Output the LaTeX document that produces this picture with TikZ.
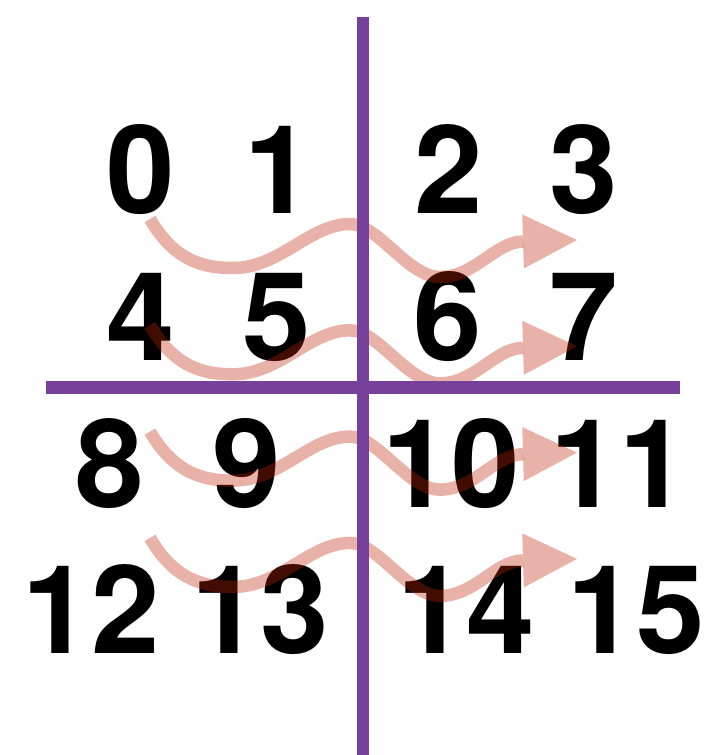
\documentclass[tikz,border=0pt]{standalone}
\usepackage{fontspec}
\setmainfont{TeX Gyre Heros}
\usetikzlibrary{arrows.meta}
\definecolor{divpurple}{RGB}{119,64,154}
\definecolor{arrowred}{RGB}{190,35,5}
\tikzset{
  num/.style={anchor=base, inner sep=0pt, font=\fontsize{123}{123}\selectfont\bfseries},
  divider/.style={draw=divpurple, line width=12.5pt},
  wave/.style={draw=arrowred, opacity=0.35, line width=12.5pt, -{Triangle[length=54pt,width=54pt,line width=0pt]}},
}
\begin{document}
\begin{tikzpicture}[x=1pt,y=-1pt]
\useasboundingbox (0,0) rectangle (712,755);
% numbers
\node[num] (n0) at (141,213) {0};
\node[num] (n1) at (279,213) {1};
\node[num] (n2) at (448.5,213) {2};
\node[num] (n3) at (584,213) {3};
\node[num] (n4) at (141,360) {4};
\node[num] (n5) at (277,360) {5};
\node[num] (n6) at (448,360) {6};
\node[num] (n7) at (584,360) {7};
\node[num] (n8) at (110,507) {8};
\node[num] (n9) at (247,507) {9};
\node[num] (n10) at (451,507) {10};
\node[num] (n11) at (619,507) {11};
\node[num] (n12) at (91,653) {12};
\node[num] (n13) at (260,653) {13};
\node[num] (n14) at (466,653) {14};
\node[num] (n15) at (636,653) {15};
% wavy arrows
\foreach \k in {0,1,2,3}{
  \begin{scope}[shift={(0,106.3*\k)}]
    \coordinate (s\k) at (150,219);
    \coordinate (t\k) at (577,240);
    \draw[wave] (s\k) .. controls (175,262) and (205,268) .. (233,268)
      .. controls (280,268) and (310,224) .. (350,224)
      .. controls (378,224) and (408,277) .. (440,277)
      .. controls (475,277) and (495,242) .. (523,241.5)
      -- (t\k);
  \end{scope}
}
% dividers
\coordinate (vtop) at (363,17);
\coordinate (vbot) at (363,755);
\coordinate (hl) at (46,387.5);
\coordinate (hr) at (680,387.5);
\draw[divider] (vtop) -- (vbot);
\draw[divider] (hl) -- (hr);
\end{tikzpicture}
\end{document}
